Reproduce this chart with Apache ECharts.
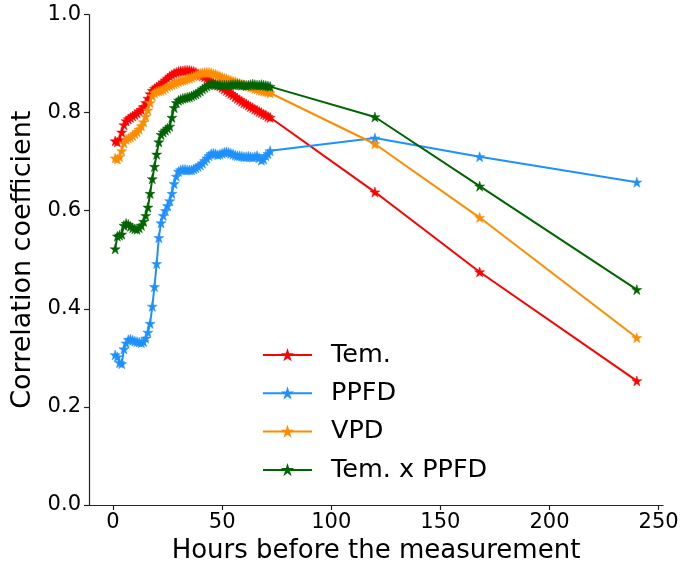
<!DOCTYPE html>
<html>
<head>
<meta charset="utf-8">
<script src="https://cdn.jsdelivr.net/npm/echarts@6/dist/echarts.min.js"></script>
<style>html,body{margin:0;padding:0;background:#fff}#c{width:684px;height:571px}</style>
</head>
<body>
<div id="c"></div>
<script>
const hours = [1,2,3,4,5,6,7,8,9,10,11,12,13,14,15,16,17,18,19,20,21,22,23,24,25,26,27,28,29,30,31,32,33,34,35,36,37,38,39,40,41,42,43,44,45,46,47,48,49,50,51,52,53,54,55,56,57,58,59,60,61,62,63,64,65,66,67,68,69,70,71,72,120,168,240];
const seriesNames = ['Tem.', 'PPFD', 'VPD', 'Tem. x PPFD'];
const temValues = [0.742,0.740,0.745,0.760,0.775,0.783,0.787,0.790,0.793,0.796,0.799,0.803,0.806,0.812,0.820,0.829,0.838,0.845,0.849,0.852,0.855,0.858,0.862,0.866,0.870,0.874,0.877,0.880,0.882,0.884,0.885,0.885,0.886,0.886,0.886,0.885,0.884,0.882,0.879,0.877,0.875,0.873,0.870,0.867,0.864,0.861,0.859,0.856,0.854,0.851,0.848,0.845,0.842,0.839,0.836,0.832,0.829,0.826,0.823,0.820,0.818,0.815,0.812,0.810,0.807,0.805,0.802,0.800,0.797,0.795,0.792,0.790,0.638,0.475,0.253];
const ppfdValues = [0.306,0.302,0.290,0.288,0.318,0.330,0.337,0.338,0.336,0.334,0.333,0.332,0.331,0.333,0.340,0.352,0.370,0.405,0.445,0.492,0.545,0.575,0.590,0.600,0.610,0.620,0.635,0.655,0.670,0.680,0.683,0.684,0.684,0.683,0.683,0.683,0.685,0.687,0.690,0.693,0.697,0.702,0.707,0.712,0.716,0.717,0.716,0.714,0.715,0.717,0.719,0.720,0.719,0.717,0.715,0.713,0.712,0.712,0.711,0.710,0.710,0.711,0.710,0.709,0.710,0.712,0.708,0.703,0.705,0.712,0.716,0.722,0.748,0.710,0.658];
const vpdValues = [0.707,0.705,0.710,0.722,0.738,0.745,0.748,0.750,0.753,0.757,0.761,0.766,0.773,0.781,0.792,0.805,0.820,0.834,0.840,0.843,0.844,0.845,0.847,0.850,0.853,0.855,0.857,0.859,0.861,0.863,0.865,0.866,0.867,0.869,0.870,0.872,0.874,0.876,0.878,0.880,0.881,0.882,0.882,0.882,0.881,0.879,0.878,0.876,0.874,0.872,0.870,0.869,0.867,0.866,0.864,0.863,0.861,0.860,0.858,0.857,0.855,0.854,0.852,0.851,0.849,0.848,0.846,0.845,0.844,0.843,0.842,0.840,0.736,0.586,0.341];
const temPpfdValues = [0.522,0.548,0.550,0.552,0.570,0.574,0.572,0.568,0.565,0.563,0.562,0.565,0.570,0.578,0.590,0.607,0.635,0.665,0.690,0.715,0.740,0.755,0.760,0.764,0.768,0.772,0.790,0.810,0.820,0.825,0.827,0.829,0.830,0.831,0.832,0.834,0.836,0.838,0.841,0.844,0.848,0.851,0.854,0.857,0.858,0.858,0.857,0.857,0.857,0.856,0.856,0.856,0.856,0.857,0.857,0.857,0.858,0.857,0.856,0.856,0.855,0.856,0.857,0.858,0.857,0.856,0.856,0.857,0.856,0.855,0.854,0.853,0.791,0.650,0.439];
const xTicks = [0,50,100,150,200,250];
const yTicks = [0,0.2,0.4,0.6,0.8,1.0];
const colors = ['#ff0000','#1e90ff','#ff8c00','#006400'];
const allValues = [temValues, ppfdValues, vpdValues, temPpfdValues];

const star = 'path://M50,0 L61.8,35.1 L100,35.1 L69.1,56.7 L80.9,91.9 L50,70.4 L19.1,91.9 L30.9,56.7 L0,35.1 L38.2,35.1 Z';
const font = 'DejaVu Sans';
const axisColor = '#222';

const chart = echarts.init(document.getElementById('c'), null, {renderer: 'canvas'});
chart.setOption({
  animation: false,
  backgroundColor: '#fff',
  grid: {left: 89, right: 21, top: 14.5, bottom: 66, containLabel: false},
  legend: {
    orient: 'vertical', left: 257, top: 336,
    itemWidth: 49, itemHeight: 9, itemGap: 10.3,
    data: seriesNames,
    textStyle: {fontFamily: font, fontSize: 25.5, color: '#000', lineHeight: 28, padding: [0,0,0,14]}
  },
  xAxis: {
    type: 'value', min: -11, max: 252,
    name: 'Hours before the measurement', nameLocation: 'middle', nameGap: 33,
    nameTextStyle: {fontFamily: font, fontSize: 26, color: '#000'},
    axisLine: {show: true, onZero: false, lineStyle: {color: axisColor, width: 1.2}},
    axisTick: {show: true, customValues: xTicks, length: 5, lineStyle: {color: axisColor, width: 1.2}},
    axisLabel: {customValues: xTicks, fontFamily: font, fontSize: 21, color: '#000', margin: 7},
    splitLine: {show: false}
  },
  yAxis: {
    type: 'value', min: 0, max: 1, interval: 0.2,
    name: 'Correlation coefficient', nameLocation: 'middle', nameGap: 51, nameRotate: 90,
    nameTextStyle: {fontFamily: font, fontSize: 27, color: '#000'},
    axisLine: {show: true, onZero: false, lineStyle: {color: axisColor, width: 1.2}},
    axisTick: {show: true, length: 5, lineStyle: {color: axisColor, width: 1.2}},
    axisLabel: {fontFamily: font, fontSize: 21, color: '#000', margin: 8, formatter: v => v.toFixed(1)},
    splitLine: {show: false}
  },
  series: seriesNames.map((name, i) => ({
    name: name,
    type: 'line',
    data: hours.map((h, j) => [h, allValues[i][j]]),
    symbol: star,
    symbolSize: 10,
    showAllSymbol: true,
    itemStyle: {color: colors[i], borderColor: colors[i], borderWidth: 0.5},
    lineStyle: {color: colors[i], width: 2},
    emphasis: {disabled: true}
  }))
});
</script>
</body>
</html>
